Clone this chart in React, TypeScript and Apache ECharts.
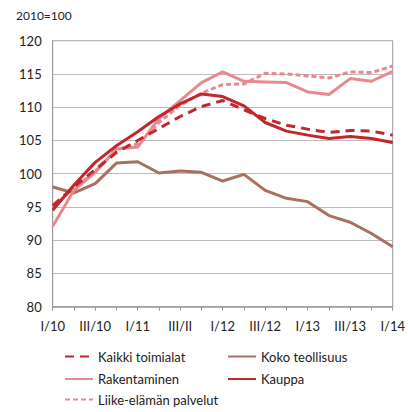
import React, { useEffect, useRef } from "react";
import * as echarts from "echarts";

const categories = [
  "I/10", "II/10", "III/10", "IV/10",
  "I/11", "II/11", "III/II", "IV/11",
  "I/12", "II/12", "III/12", "IV/12",
  "I/13", "II/13", "III/13", "IV/13",
  "I/14",
];

const kaikkiToimialat = [95.2, 98.0, 100.6, 103.2, 105.0, 106.8, 108.6, 110.1, 111.0, 109.6, 108.3, 107.3, 106.7, 106.2, 106.5, 106.4, 105.8];
const kokoTeollisuus = [98.0, 97.1, 98.5, 101.6, 101.8, 100.1, 100.4, 100.2, 98.9, 99.9, 97.5, 96.3, 95.8, 93.7, 92.7, 91.0, 89.0];
const rakentaminen = [92.1, 97.5, 100.2, 103.7, 104.0, 108.3, 111.0, 113.7, 115.3, 113.9, 113.8, 113.7, 112.3, 111.9, 114.3, 113.9, 115.4];
const kauppa = [94.5, 98.3, 101.7, 104.2, 106.3, 108.6, 110.5, 112.0, 111.6, 110.2, 107.7, 106.4, 105.8, 105.3, 105.6, 105.3, 104.7];
const liikeElamanPalvelut = [95.0, 97.8, 100.4, 103.6, 104.5, 107.7, 110.3, 112.1, 113.4, 113.5, 115.1, 115.0, 114.7, 114.4, 115.3, 115.2, 116.2];

const yTitle = "2010=100";

const DARK_RED = "#C1272D";
const BROWN = "#A8705F";
const PINK = "#E8898E";
const FONT = "Lato, 'Noto Sans', sans-serif";

export default function App() {
  const ref = useRef<HTMLDivElement>(null);

  useEffect(() => {
    if (!ref.current) return;
    const chart = echarts.init(ref.current, undefined, { renderer: "svg" });
    const mk = (name: string, data: number[], color: string, type: any, z: number) => ({
      name,
      type: "line",
      data,
      symbol: "none",
      showSymbol: false,
      smooth: false,
      z,
      lineStyle: { color, width: 3, type, cap: "butt" },
      itemStyle: { color },
    });
    const leg = (names: string[], left: number, top: number) => ({
      data: names,
      orient: "vertical",
      left,
      top,
      padding: 0,
      itemWidth: 28,
      itemHeight: 14,
      itemGap: 9.5,
      itemStyle: { opacity: 0 },
      textStyle: { fontSize: 13, color: "#222", fontFamily: FONT },
      selectedMode: false,
    });
    chart.setOption({
      animation: false,
      textStyle: { fontFamily: FONT },
      grid: {
        left: 52.7,
        right: 8.7,
        top: 40.7,
        bottom: 105.3,
        show: true,
        borderColor: "#999",
        borderWidth: 1,
        backgroundColor: "transparent",
      },
      graphic: [
        {
          type: "text",
          left: 16,
          top: 9,
          style: { text: yTitle, fontSize: 12, fontFamily: FONT, fill: "#222" },
        },
      ],
      xAxis: {
        type: "category",
        data: categories,
        boundaryGap: false,
        axisLine: { show: true, lineStyle: { color: "#999", width: 1.5 } },
        axisTick: { show: true, interval: 0, length: 4, lineStyle: { color: "#999" } },
        axisLabel: { interval: 1, color: "#222", fontSize: 13, fontFamily: FONT, margin: 13 },
        splitLine: { show: false },
      },
      yAxis: {
        type: "value",
        min: 80,
        max: 120,
        interval: 5,
        axisLine: { show: true, lineStyle: { color: "#999" } },
        axisTick: { show: false },
        axisLabel: { color: "#222", fontSize: 13, fontFamily: FONT, margin: 11 },
        splitLine: { show: true, lineStyle: { color: "#bbb", width: 1.2 } },
      },
      legend: [
        leg(["Kaikki toimialat", "Rakentaminen"], 64, 350),
        leg(["Liike-elämän palvelut"], 64, 393),
        leg(["Koko teollisuus", "Kauppa"], 227, 350),
      ],
      series: [
        mk("Kaikki toimialat", kaikkiToimialat, DARK_RED, [9, 6], 5),
        mk("Koko teollisuus", kokoTeollisuus, BROWN, "solid", 2),
        mk("Rakentaminen", rakentaminen, PINK, "solid", 3),
        mk("Kauppa", kauppa, DARK_RED, "solid", 4),
        mk("Liike-elämän palvelut", liikeElamanPalvelut, PINK, [5, 3], 3),
      ],
    });
    return () => chart.dispose();
  }, []);

  return (
    <div
      ref={ref}
      style={{ position: "absolute", left: 0, top: 0, width: 408, height: 412 }}
    />
  );
}
